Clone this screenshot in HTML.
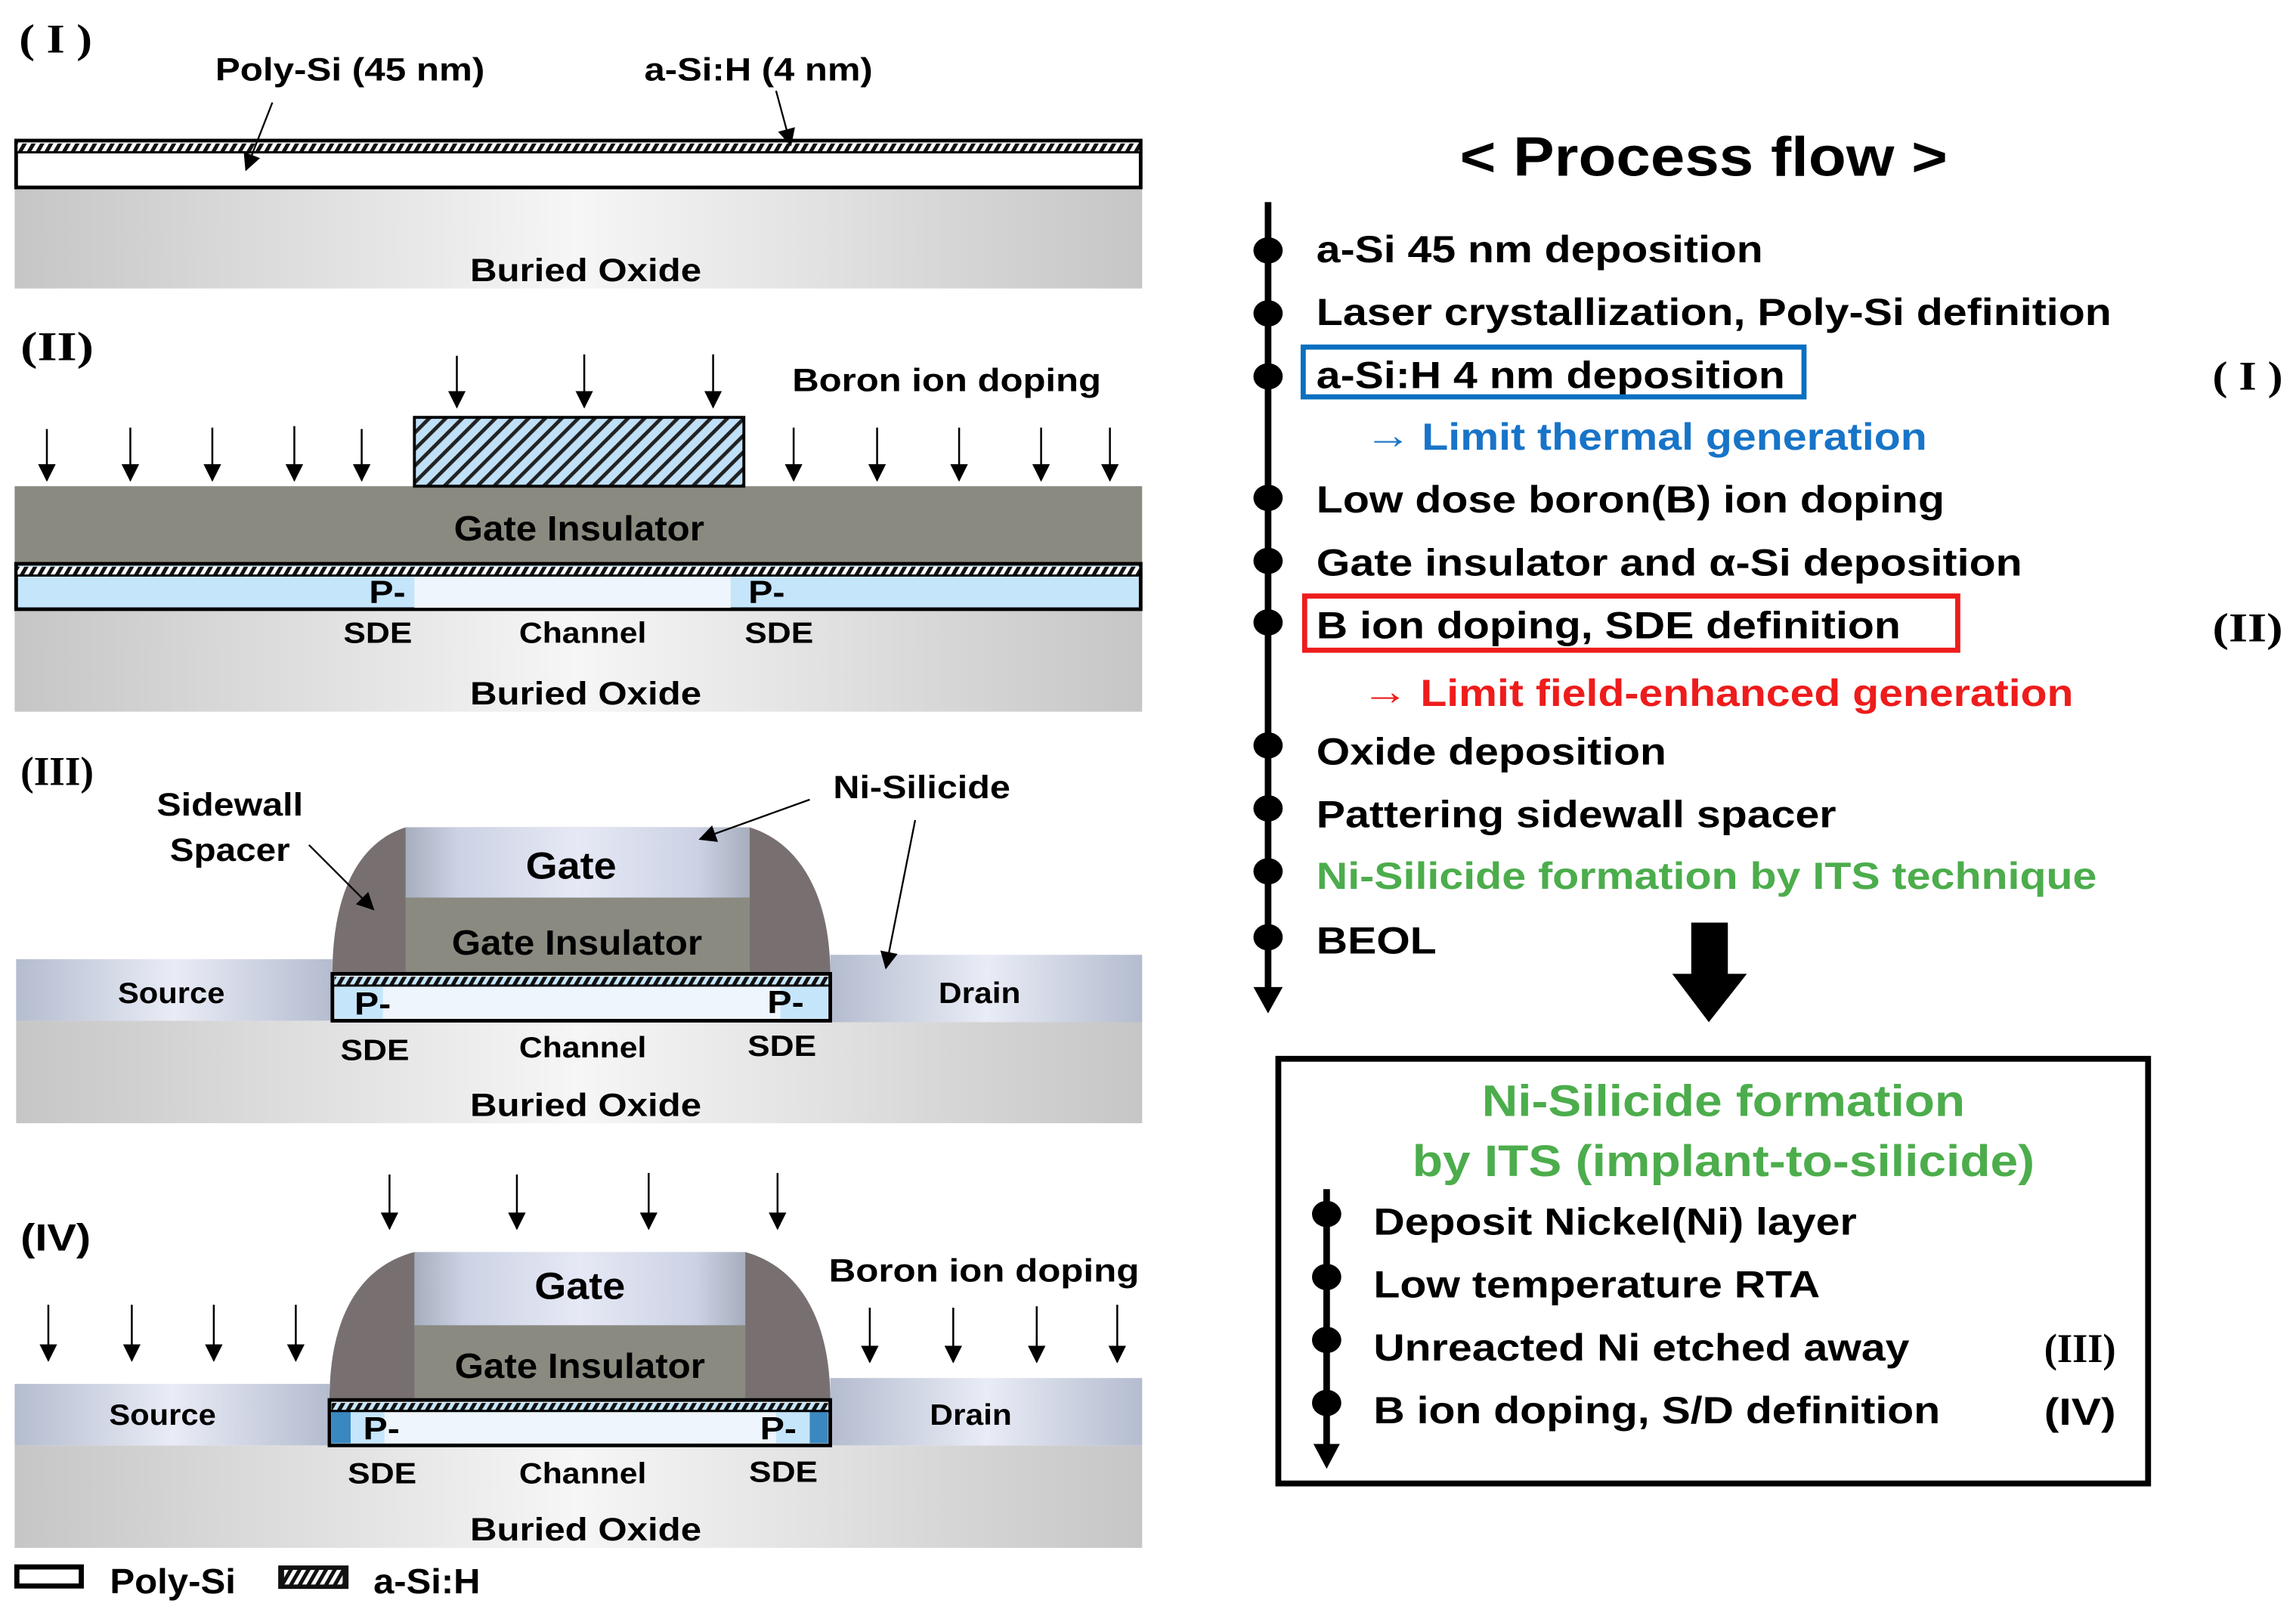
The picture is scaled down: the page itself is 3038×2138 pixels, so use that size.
<!DOCTYPE html>
<html><head><meta charset="utf-8"><style>
html,body{margin:0;padding:0;background:#fff;}
svg{display:block;}
.n{font-family:"Liberation Sans Narrow","Liberation Sans",sans-serif;font-weight:bold;}
.w{font-family:"Liberation Sans",sans-serif;font-weight:bold;}
.r{font-family:"Liberation Serif",serif;font-weight:bold;}
</style></head><body>
<svg width="3038" height="2138" viewBox="0 0 1568 1103.5" xmlns="http://www.w3.org/2000/svg">
<defs>
<linearGradient id="box" x1="0" x2="1" y1="0" y2="0"><stop offset="0" stop-color="#c6c6c6"/><stop offset="0.5" stop-color="#f6f6f6"/><stop offset="1" stop-color="#c6c6c6"/></linearGradient>
<linearGradient id="sd" x1="0" x2="1" y1="0" y2="0"><stop offset="0" stop-color="#b4bccf"/><stop offset="0.5" stop-color="#e9ecf6"/><stop offset="1" stop-color="#b4bccf"/></linearGradient>
<linearGradient id="gt" x1="0" x2="1" y1="0" y2="0"><stop offset="0" stop-color="#a6aebd"/><stop offset="0.15" stop-color="#ccd2e4"/><stop offset="0.5" stop-color="#e6e9f5"/><stop offset="0.85" stop-color="#ccd2e4"/><stop offset="1" stop-color="#a6aebd"/></linearGradient>
<pattern id="h1" width="6" height="8" patternUnits="userSpaceOnUse" patternTransform="skewX(-30)"><rect width="6" height="8" fill="#fff"/><rect width="3" height="8" fill="#111"/></pattern>
<pattern id="h2" width="6" height="8" patternUnits="userSpaceOnUse" patternTransform="skewX(-30)"><rect width="6" height="8" fill="#c5e5fb"/><rect width="3" height="8" fill="#111"/></pattern>
<pattern id="hg" width="8" height="8" patternUnits="userSpaceOnUse" patternTransform="rotate(45)"><rect width="8" height="8" fill="#bfe0f7"/><rect width="2.5" height="8" fill="#222"/></pattern>
<marker id="ab" markerWidth="12" markerHeight="12" refX="11" refY="6" orient="auto" markerUnits="userSpaceOnUse"><path d="M0,0 L12,6 L0,12 Z" fill="#000"/></marker>
</defs>

<!-- Panel I -->
<text class="r" x="13" y="36" font-size="28" textLength="50" lengthAdjust="spacingAndGlyphs">( I )</text>
<text class="n" x="147" y="55" font-size="22" textLength="184" lengthAdjust="spacingAndGlyphs">Poly-Si (45 nm)</text>
<text class="n" x="440" y="55" font-size="22" textLength="156" lengthAdjust="spacingAndGlyphs">a-Si:H (4 nm)</text>
<rect x="10" y="128" width="770" height="69" fill="url(#box)"/>
<rect x="11" y="96" width="768" height="32" fill="#fff" stroke="#000" stroke-width="2.5"/>
<rect x="12" y="98" width="766" height="6" fill="url(#h1)"/>
<line x1="12" y1="104" x2="778" y2="104" stroke="#000" stroke-width="1.5"/>
<line x1="186" y1="70" x2="168" y2="116" stroke="#000" stroke-width="1.2" marker-end="url(#ab)"/>
<line x1="530" y1="62" x2="540" y2="99" stroke="#000" stroke-width="1.2" marker-end="url(#ab)"/>
<text class="n" x="400" y="192" font-size="22" text-anchor="middle" textLength="158" lengthAdjust="spacingAndGlyphs">Buried Oxide</text>

<!-- Panel II -->
<text class="r" x="14" y="246" font-size="28" textLength="50" lengthAdjust="spacingAndGlyphs">(II)</text>
<g stroke="#000" stroke-width="1.3" marker-end="url(#ab)">
<line x1="312" y1="243" x2="312" y2="278"/><line x1="399" y1="242" x2="399" y2="278"/><line x1="487" y1="242" x2="487" y2="278"/>
<line x1="32" y1="293" x2="32" y2="328"/><line x1="89" y1="292" x2="89" y2="328"/><line x1="145" y1="292" x2="145" y2="328"/><line x1="201" y1="291" x2="201" y2="328"/><line x1="247" y1="293" x2="247" y2="328"/>
<line x1="542" y1="292" x2="542" y2="328"/><line x1="599" y1="292" x2="599" y2="328"/><line x1="655" y1="292" x2="655" y2="328"/><line x1="711" y1="292" x2="711" y2="328"/><line x1="758" y1="292" x2="758" y2="328"/>
</g>
<text class="n" x="541" y="267" font-size="22" textLength="211" lengthAdjust="spacingAndGlyphs">Boron ion doping</text>
<rect x="10" y="416" width="770" height="70" fill="url(#box)"/>
<rect x="10" y="332" width="770" height="53" fill="#8a8a81"/>
<rect x="283" y="285" width="225" height="47" fill="url(#hg)" stroke="#000" stroke-width="2"/>
<rect x="11" y="385" width="768" height="31" fill="#c5e5fb" stroke="#000" stroke-width="2.5"/>
<rect x="283" y="394" width="216" height="21" fill="#eef5fc"/>
<rect x="12" y="387" width="766" height="6" fill="url(#h1)"/>
<line x1="12" y1="393" x2="778" y2="393" stroke="#000" stroke-width="1.5"/>
<text class="n" x="310" y="369" font-size="24" textLength="171" lengthAdjust="spacingAndGlyphs">Gate Insulator</text>
<text class="n" x="252" y="412" font-size="22" textLength="25" lengthAdjust="spacingAndGlyphs">P-</text><text class="n" x="511" y="412" font-size="22" textLength="25" lengthAdjust="spacingAndGlyphs">P-</text>
<text class="n" x="258" y="439" font-size="20" text-anchor="middle" textLength="47" lengthAdjust="spacingAndGlyphs">SDE</text>
<text class="n" x="398" y="439" font-size="20" text-anchor="middle" textLength="87" lengthAdjust="spacingAndGlyphs">Channel</text>
<text class="n" x="532" y="439" font-size="20" text-anchor="middle" textLength="47" lengthAdjust="spacingAndGlyphs">SDE</text>
<text class="n" x="400" y="481" font-size="22" text-anchor="middle" textLength="158" lengthAdjust="spacingAndGlyphs">Buried Oxide</text>

<!-- Panel III -->
<text class="r" x="14" y="536" font-size="28" textLength="50" lengthAdjust="spacingAndGlyphs">(III)</text>
<rect x="11" y="697" width="769" height="70" fill="url(#box)"/>
<rect x="11" y="655" width="216" height="42" fill="url(#sd)"/>
<rect x="567" y="652" width="213" height="46" fill="url(#sd)"/>
<path d="M227,665 C227,610 245,575 277,565 L512,565 C545,575 567,610 567,665 Z" fill="#787070"/>
<rect x="277" y="565" width="235" height="48" fill="url(#gt)"/>
<rect x="277" y="613" width="235" height="52" fill="#8a8a81"/>
<rect x="227" y="665" width="340" height="32" fill="#eef5fc" stroke="#000" stroke-width="2.5"/>
<rect x="228.5" y="674" width="33" height="21.5" fill="#c5e5fb"/><rect x="533" y="674" width="32.5" height="21.5" fill="#c5e5fb"/>
<rect x="228.5" y="667" width="337" height="6" fill="url(#h2)"/>
<line x1="228" y1="673" x2="566" y2="673" stroke="#000" stroke-width="1.5"/>
<text class="n" x="390" y="600" font-size="26" text-anchor="middle" textLength="62" lengthAdjust="spacingAndGlyphs">Gate</text>
<text class="n" x="394" y="652" font-size="24" text-anchor="middle" textLength="171" lengthAdjust="spacingAndGlyphs">Gate Insulator</text>
<text class="n" x="117" y="685" font-size="20" text-anchor="middle" textLength="73" lengthAdjust="spacingAndGlyphs">Source</text>
<text class="n" x="669" y="685" font-size="20" text-anchor="middle" textLength="56" lengthAdjust="spacingAndGlyphs">Drain</text>
<text class="n" x="242" y="693" font-size="22" textLength="25" lengthAdjust="spacingAndGlyphs">P-</text><text class="n" x="524" y="692" font-size="22" textLength="25" lengthAdjust="spacingAndGlyphs">P-</text>
<text class="n" x="256" y="724" font-size="20" text-anchor="middle" textLength="47" lengthAdjust="spacingAndGlyphs">SDE</text>
<text class="n" x="398" y="722" font-size="20" text-anchor="middle" textLength="87" lengthAdjust="spacingAndGlyphs">Channel</text>
<text class="n" x="534" y="721" font-size="20" text-anchor="middle" textLength="47" lengthAdjust="spacingAndGlyphs">SDE</text>
<text class="n" x="400" y="762" font-size="22" text-anchor="middle" textLength="158" lengthAdjust="spacingAndGlyphs">Buried Oxide</text>
<text class="n" x="157" y="557" font-size="22" text-anchor="middle" textLength="100" lengthAdjust="spacingAndGlyphs">Sidewall</text>
<text class="n" x="157" y="588" font-size="22" text-anchor="middle" textLength="82" lengthAdjust="spacingAndGlyphs">Spacer</text>
<text class="n" x="569" y="545" font-size="22" textLength="121" lengthAdjust="spacingAndGlyphs">Ni-Silicide</text>
<line x1="211" y1="577" x2="255" y2="621" stroke="#000" stroke-width="1.2" marker-end="url(#ab)"/>
<line x1="553" y1="546" x2="478" y2="573" stroke="#000" stroke-width="1.2" marker-end="url(#ab)"/>
<line x1="625" y1="560" x2="605" y2="661" stroke="#000" stroke-width="1.2" marker-end="url(#ab)"/>

<!-- Panel IV -->
<text class="n" x="14" y="854" font-size="26" textLength="48" lengthAdjust="spacingAndGlyphs">(IV)</text>
<g stroke="#000" stroke-width="1.3" marker-end="url(#ab)">
<line x1="266" y1="802" x2="266" y2="839"/><line x1="353" y1="802" x2="353" y2="839"/><line x1="443" y1="801" x2="443" y2="839"/><line x1="531" y1="801" x2="531" y2="839"/>
<line x1="33" y1="891" x2="33" y2="929"/><line x1="90" y1="891" x2="90" y2="929"/><line x1="146" y1="891" x2="146" y2="929"/><line x1="202" y1="891" x2="202" y2="929"/>
<line x1="594" y1="893" x2="594" y2="930"/><line x1="651" y1="893" x2="651" y2="930"/><line x1="708" y1="892" x2="708" y2="930"/><line x1="763" y1="891" x2="763" y2="930"/>
</g>
<text class="n" x="566" y="875" font-size="22" textLength="212" lengthAdjust="spacingAndGlyphs">Boron ion doping</text>
<rect x="10" y="987" width="770" height="70" fill="url(#box)"/>
<rect x="10" y="945" width="215" height="42" fill="url(#sd)"/>
<rect x="567" y="941" width="213" height="46" fill="url(#sd)"/>
<path d="M225,956 C225,900 245,865 283,855 L509,855 C545,865 567,900 567,956 Z" fill="#787070"/>
<rect x="283" y="855" width="226" height="50" fill="url(#gt)"/>
<rect x="283" y="905" width="226" height="51" fill="#8a8a81"/>
<rect x="225" y="956" width="342" height="31" fill="#eef5fc" stroke="#000" stroke-width="2.5"/>
<rect x="226.5" y="964" width="13" height="21.5" fill="#3a88c0"/><rect x="239.5" y="964" width="23" height="21.5" fill="#c5e5fb"/>
<rect x="530" y="964" width="23" height="21.5" fill="#c5e5fb"/><rect x="553" y="964" width="12.5" height="21.5" fill="#3a88c0"/>
<rect x="226.5" y="958" width="339" height="5" fill="url(#h2)"/>
<line x1="226" y1="963.5" x2="566" y2="963.5" stroke="#000" stroke-width="1.5"/>
<text class="n" x="396" y="887" font-size="26" text-anchor="middle" textLength="62" lengthAdjust="spacingAndGlyphs">Gate</text>
<text class="n" x="396" y="941" font-size="24" text-anchor="middle" textLength="171" lengthAdjust="spacingAndGlyphs">Gate Insulator</text>
<text class="n" x="111" y="973" font-size="20" text-anchor="middle" textLength="73" lengthAdjust="spacingAndGlyphs">Source</text>
<text class="n" x="663" y="973" font-size="20" text-anchor="middle" textLength="56" lengthAdjust="spacingAndGlyphs">Drain</text>
<text class="n" x="248" y="983" font-size="22" textLength="25" lengthAdjust="spacingAndGlyphs">P-</text><text class="n" x="519" y="983" font-size="22" textLength="25" lengthAdjust="spacingAndGlyphs">P-</text>
<text class="n" x="261" y="1013" font-size="20" text-anchor="middle" textLength="47" lengthAdjust="spacingAndGlyphs">SDE</text>
<text class="n" x="398" y="1013" font-size="20" text-anchor="middle" textLength="87" lengthAdjust="spacingAndGlyphs">Channel</text>
<text class="n" x="535" y="1012" font-size="20" text-anchor="middle" textLength="47" lengthAdjust="spacingAndGlyphs">SDE</text>
<text class="n" x="400" y="1052" font-size="22" text-anchor="middle" textLength="158" lengthAdjust="spacingAndGlyphs">Buried Oxide</text>

<!-- Legend -->
<rect x="11.5" y="1070" width="44" height="13" fill="#fff" stroke="#000" stroke-width="3.5"/>
<text class="n" x="75" y="1088" font-size="24" textLength="86" lengthAdjust="spacingAndGlyphs">Poly-Si</text>
<rect x="190" y="1069" width="48" height="16" fill="#111"/>
<rect x="194" y="1072" width="40" height="10" fill="url(#h1)"/>
<text class="n" x="255" y="1088" font-size="24" textLength="73" lengthAdjust="spacingAndGlyphs">a-Si:H</text>

<!-- Right: Process flow -->
<text class="w" x="997" y="120" font-size="38" textLength="333" lengthAdjust="spacingAndGlyphs">&lt; Process flow &gt;</text>
<line x1="866" y1="138" x2="866" y2="680" stroke="#000" stroke-width="4.5"/>
<path d="M856,674 L876,674 L866,692 Z" fill="#000"/>
<g fill="#000">
<ellipse cx="866" cy="171" rx="10" ry="9"/><ellipse cx="866" cy="214" rx="10" ry="9"/><ellipse cx="866" cy="257" rx="10" ry="9"/>
<ellipse cx="866" cy="340" rx="10" ry="9"/><ellipse cx="866" cy="383" rx="10" ry="9"/><ellipse cx="866" cy="425" rx="10" ry="9"/>
<ellipse cx="866" cy="509" rx="10" ry="9"/><ellipse cx="866" cy="552" rx="10" ry="9"/><ellipse cx="866" cy="595" rx="10" ry="9"/><ellipse cx="866" cy="640" rx="10" ry="9"/>
</g>
<g class="w" font-size="26">
<text x="899" y="179" textLength="305" lengthAdjust="spacingAndGlyphs">a-Si 45 nm deposition</text>
<text x="899" y="222" textLength="543" lengthAdjust="spacingAndGlyphs">Laser crystallization, Poly-Si definition</text>
<text x="899" y="265" textLength="320" lengthAdjust="spacingAndGlyphs">a-Si:H 4 nm deposition</text>
<text x="932" y="306" fill="#1874c8" font-size="26" textLength="32" lengthAdjust="spacingAndGlyphs" style="font-weight:normal">→</text>
<text x="971" y="307" fill="#1874c8" textLength="345" lengthAdjust="spacingAndGlyphs">Limit thermal generation</text>
<text x="899" y="350" textLength="429" lengthAdjust="spacingAndGlyphs">Low dose boron(B) ion doping</text>
<text x="899" y="393" textLength="482" lengthAdjust="spacingAndGlyphs">Gate insulator and α-Si deposition</text>
<text x="899" y="436" textLength="399" lengthAdjust="spacingAndGlyphs">B ion doping, SDE definition</text>
<text x="930" y="481" fill="#ee1c1c" font-size="26" textLength="32" lengthAdjust="spacingAndGlyphs" style="font-weight:normal">→</text>
<text x="970" y="482" fill="#ee1c1c" textLength="446" lengthAdjust="spacingAndGlyphs">Limit field-enhanced generation</text>
<text x="899" y="522" textLength="239" lengthAdjust="spacingAndGlyphs">Oxide deposition</text>
<text x="899" y="565" textLength="355" lengthAdjust="spacingAndGlyphs">Pattering sidewall spacer</text>
<text x="899" y="607" fill="#4cad4c" textLength="533" lengthAdjust="spacingAndGlyphs">Ni-Silicide formation by ITS technique</text>
<text x="899" y="651" textLength="82" lengthAdjust="spacingAndGlyphs">BEOL</text>
</g>
<text class="r" x="1511" y="266" font-size="28" textLength="48" lengthAdjust="spacingAndGlyphs">( I )</text>
<text class="r" x="1511" y="438" font-size="28" textLength="48" lengthAdjust="spacingAndGlyphs">(II)</text>
<rect x="890" y="237" width="342" height="34" fill="none" stroke="#0a70c0" stroke-width="3.5"/>
<rect x="891" y="407" width="446" height="37" fill="none" stroke="#ee1c1c" stroke-width="3.5"/>
<rect x="1155" y="630" width="25" height="36" fill="#000"/>
<path d="M1142,665 L1193,665 L1167,698 Z" fill="#000"/>

<rect x="873" y="723" width="594" height="290" fill="none" stroke="#000" stroke-width="4"/>
<text class="w" x="1177" y="762" font-size="30" fill="#4cad4c" text-anchor="middle" textLength="330" lengthAdjust="spacingAndGlyphs">Ni-Silicide formation</text>
<text class="w" x="1177" y="803" font-size="30" fill="#4cad4c" text-anchor="middle" textLength="425" lengthAdjust="spacingAndGlyphs">by ITS (implant-to-silicide)</text>
<line x1="906" y1="812" x2="906" y2="990" stroke="#000" stroke-width="4.5"/>
<path d="M897,986 L915,986 L906,1003 Z" fill="#000"/>
<g fill="#000">
<ellipse cx="906" cy="829" rx="10" ry="9"/><ellipse cx="906" cy="872" rx="10" ry="9"/><ellipse cx="906" cy="915" rx="10" ry="9"/><ellipse cx="906" cy="958" rx="10" ry="9"/>
</g>
<g class="w" font-size="26">
<text x="938" y="843" textLength="330" lengthAdjust="spacingAndGlyphs">Deposit Nickel(Ni) layer</text>
<text x="938" y="886" textLength="305" lengthAdjust="spacingAndGlyphs">Low temperature RTA</text>
<text x="938" y="929" textLength="366" lengthAdjust="spacingAndGlyphs">Unreacted Ni etched away</text>
<text x="938" y="972" textLength="387" lengthAdjust="spacingAndGlyphs">B ion doping, S/D definition</text>
<text x="1396" y="973" font-size="26" textLength="49" lengthAdjust="spacingAndGlyphs">(IV)</text>
</g>
<text class="r" x="1396" y="930" font-size="28" textLength="49" lengthAdjust="spacingAndGlyphs">(III)</text>
</svg>
</body></html>
